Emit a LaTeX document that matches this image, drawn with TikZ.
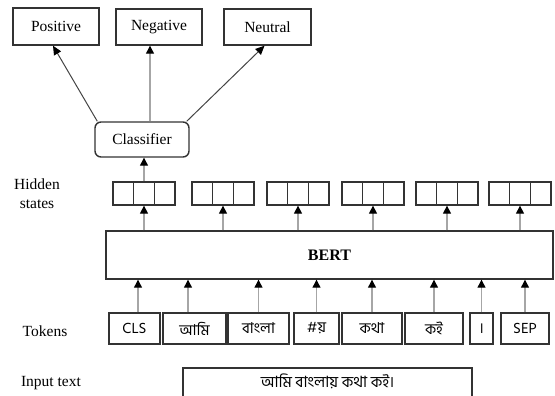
\documentclass[tikz,border=0pt]{standalone}
\usepackage{fontspec}
\setmainfont{Liberation Serif}
\newfontfamily\bn[Script=Bengali]{Hind Siliguri}
\usetikzlibrary{arrows.meta}
\definecolor{boxc}{HTML}{333333}
\definecolor{arrc}{HTML}{A6A6A6}
\definecolor{darkc}{HTML}{444444}
\begin{document}
\begin{tikzpicture}[x=1pt,y=-1pt,
  box/.style={draw=boxc, line width=1.4pt, inner sep=0pt, font=\fontsize{15.5}{18}\selectfont},
  tok/.style={draw=boxc, line width=1.4pt, inner sep=0pt, minimum height=31pt, font=\bn\fontsize{15}{17}\selectfont},
  cell/.style={draw=boxc, line width=1.3pt, minimum width=20.67pt, minimum height=23pt, inner sep=0pt},
  garr/.style={draw=arrc, line width=1.2pt, -{Triangle[width=8pt,length=8pt,color=black]}},
  darr/.style={draw=darkc, line width=1pt, -{Triangle[width=8pt,length=9pt,color=black]}},
  lbl/.style={font=\fontsize{15.5}{19}\selectfont, align=center, inner sep=0pt}
]
\useasboundingbox (0,0) rectangle (555,396);

% output classes
\node[box, minimum width=86pt, minimum height=37pt] (pos) at (56,26.5) {Positive};
\node[box, minimum width=86pt, minimum height=36pt] (neg) at (159,27) {Negative};
\node[box, minimum width=87pt, minimum height=36pt] (neu) at (267.5,27) {Neutral};

% classifier
\node[box, rounded corners=6pt, minimum width=94pt, minimum height=35pt] (clf) at (142,139.5) {Classifier};

\draw[darr] ([xshift=3pt]clf.north west) -- ([xshift=-3pt]pos.south);
\draw[garr] ([xshift=8pt]clf.north) -- ([xshift=-9pt]neg.south);
\draw[darr] ([xshift=-3pt]clf.north east) -- ([xshift=-3pt]neu.south);

% labels
\node[lbl] (hid) at (37,194) {Hidden\\states};
\node[lbl] (toklbl) at (45,331) {Tokens};
\node[lbl] (inlbl) at (51,383) {Input text};

% BERT
\node[box, minimum width=447pt, minimum height=48pt, font=\bfseries\fontsize{16}{18}\selectfont] (bert) at (329.5,255) {BERT};

% hidden states
\foreach \i/\x in {1/113,2/192,3/267,4/342,5/416,6/489}{
  \node[cell] (h\i a) at (\x+10.33,193.5) {};
  \node[cell] (h\i b) at (\x+31,193.5) {};
  \node[cell] (h\i c) at (\x+51.67,193.5) {};
  \draw[garr] (bert.north -| h\i b.south) -- (h\i b.south);
}
\draw[garr] (h1b.north) -- (clf.south -| h1b.north);

% tokens
\node[tok, minimum width=51pt] (t1) at (134.5,328.5) {CLS};
\node[tok, minimum width=63pt] (t2) at (194.5,328.5) {আমি};
\node[tok, minimum width=61pt] (t3) at (258.5,328.5) {বাংলা};
\node[tok, minimum width=45pt] (t4) at (316.5,328.5) {\#য়};
\node[tok, minimum width=60pt] (t5) at (372,328.5) {কথা};
\node[tok, minimum width=58pt] (t6) at (434,328.5) {কই};
\node[tok, minimum width=23pt] (t7) at (481.5,328.5) {।};
\node[tok, minimum width=48pt] (t8) at (525,328.5) {SEP};

\draw[garr] ([xshift=3.5pt]t1.north) -- ([xshift=3.5pt]bert.south -| t1.north);
\draw[garr] ([xshift=-6.5pt]t2.north) -- ([xshift=-6.5pt]bert.south -| t2.north);
\foreach \j in {3,4,5,6,7,8}{
  \draw[garr] (t\j.north) -- (bert.south -| t\j.north);
}

% input text
\node[draw=boxc, line width=1.4pt, minimum width=289pt, minimum height=40pt, inner sep=0pt] (inbox) at (327.5,388) {};
\node[font=\bn\fontsize{15.5}{18}\selectfont, inner sep=0pt] (intext) at ([yshift=-14.5pt]inbox.north) {আমি বাংলায় কথা কই।};
\end{tikzpicture}
\end{document}
